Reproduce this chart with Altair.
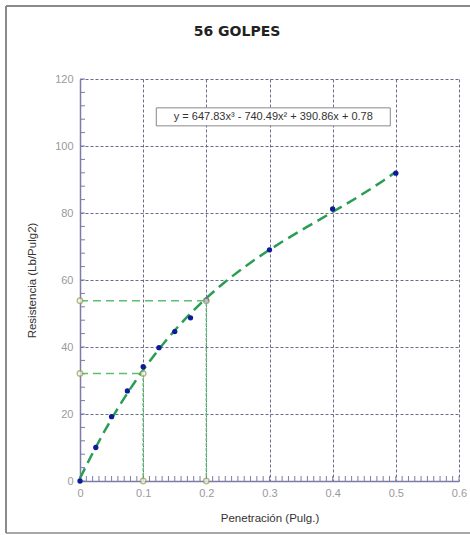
import altair as alt
import pandas as pd

# ---- data ----
penetracion = [0, 0.025, 0.05, 0.075, 0.1, 0.125, 0.15, 0.175, 0.2, 0.3, 0.4, 0.5]
resistencia = [0, 10, 19.2, 26.9, 34.1, 39.8, 44.6, 48.7, 54.0, 69.0, 81.2, 91.9]
ref_pen = [0.1, 0.2]
ref_res = [32.1, 53.8]
title_text = "56 GOLPES"
equation = "y = 647.83x³ - 740.49x² + 390.86x + 0.78"
eq_pos = [0.306, 108.7]
x_ticks = [0, 0.1, 0.2, 0.3, 0.4, 0.5, 0.6]
y_ticks = [0, 20, 40, 60, 80, 100, 120]
x_minor = [round(i * 0.01, 2) for i in range(61)]
y_minor = list(range(0, 121, 4))

pts = pd.DataFrame({"pen": penetracion, "res": resistencia})
refs = pd.DataFrame({"pen": ref_pen, "res": ref_res, "zero": [0, 0]})
circ = pd.DataFrame({
    "pen": [0, ref_pen[0], ref_pen[0], 0, ref_pen[1], ref_pen[1]],
    "res": [ref_res[0], ref_res[0], 0, ref_res[1], ref_res[1], 0],
})
eq = pd.DataFrame({"pen": [eq_pos[0]], "res": [eq_pos[1]], "label": [equation]})
xm = pd.DataFrame({"pen": x_minor})
ym = pd.DataFrame({"res": y_minor})

xs = alt.Scale(domain=[0, 0.6], nice=False, zero=False)
ys = alt.Scale(domain=[0, 120], nice=False, zero=False)

GRID = "#5b5b80"
DOM = "#7c7ca6"

x_main = alt.Axis(values=x_ticks, title="Penetración (Pulg.)", orient="bottom",
                  labelExpr="'' + datum.value", labelFlush=False,
                  grid=True, gridColor=GRID, gridDash=[3, 2], gridWidth=1, gridOpacity=0.9,
                  domainColor=DOM, domainWidth=1.5, ticks=False,
                  labelColor="#9a9a9a", labelFontSize=11, labelFont="Liberation Sans",
                  labelPadding=6, titleFont="Liberation Sans", titleFontSize=11.5,
                  titleFontWeight="normal", titleColor="#333333", titlePadding=14)
y_main = alt.Axis(values=y_ticks, title="Resistencia  (Lb/Pulg2)", orient="left",
                  labelExpr="'' + datum.value", labelFlush=False,
                  grid=True, gridColor=GRID, gridDash=[3, 2], gridWidth=1, gridOpacity=0.9,
                  domainColor=DOM, domainWidth=1.5, ticks=False,
                  labelColor="#9a9a9a", labelFontSize=11, labelFont="Liberation Sans",
                  labelPadding=7, titleFont="Liberation Sans", titleFontSize=11.5,
                  titleFontWeight="normal", titleColor="#333333", titlePadding=17)

base = alt.Chart(pts)

axes_layer = base.mark_point(opacity=0).encode(
    x=alt.X("pen:Q", scale=xs, axis=x_main),
    y=alt.Y("res:Q", scale=ys, axis=y_main),
)

x_minor_ticks = alt.Chart(xm).mark_rule(color=DOM, strokeWidth=1).encode(
    x=alt.X("pen:Q", scale=xs, axis=None), y=alt.value(397), y2=alt.value(402))
y_minor_ticks = alt.Chart(ym).mark_rule(color=DOM, strokeWidth=1).encode(
    y=alt.Y("res:Q", scale=ys, axis=None), x=alt.value(0), x2=alt.value(5))

hlines = alt.Chart(refs).mark_rule(color="#5cc070", strokeWidth=1.5, strokeDash=[8, 5]).encode(
    x=alt.X("zero:Q", scale=xs, axis=None), x2="pen:Q",
    y=alt.Y("res:Q", scale=ys, axis=None),
)
vlines = alt.Chart(refs).mark_rule(color="#5cc070", strokeWidth=1.5, strokeDash=[3, 2]).encode(
    x=alt.X("pen:Q", scale=xs, axis=None),
    y=alt.Y("zero:Q", scale=ys, axis=None), y2="res:Q",
)

curve = base.transform_regression(
    "pen", "res", method="poly", order=3, extent=[0, 0.5]
).mark_line(color="#2a9d55", strokeWidth=2.5, strokeDash=[11, 6]).encode(
    x=alt.X("pen:Q", scale=xs, axis=None),
    y=alt.Y("res:Q", scale=ys, axis=None),
)

points = base.mark_circle(color="#0c1a9c", size=28, opacity=1).encode(
    x=alt.X("pen:Q", scale=xs, axis=None),
    y=alt.Y("res:Q", scale=ys, axis=None),
)

circles = alt.Chart(circ).mark_point(shape="circle", filled=True, fill="white",
                                      stroke="#9aa35a", strokeWidth=1.5, size=30).encode(
    x=alt.X("pen:Q", scale=xs, axis=None),
    y=alt.Y("res:Q", scale=ys, axis=None),
)

box = alt.Chart(eq).mark_rect(fill="white", stroke="#888888", strokeWidth=1,
                               width=234, height=18).encode(
    x=alt.X("pen:Q", scale=xs, axis=None),
    y=alt.Y("res:Q", scale=ys, axis=None),
)
eq_text = alt.Chart(eq).mark_text(font="Liberation Sans", fontSize=11, color="#333333",
                                  align="center", baseline="middle").encode(
    x=alt.X("pen:Q", scale=xs, axis=None),
    y=alt.Y("res:Q", scale=ys, axis=None),
    text="label:N",
)

title = alt.Chart(pd.DataFrame({"t": [title_text]})).mark_text(
    font="DejaVu Sans", fontWeight="bold", fontSize=14, color="#222222",
    align="center", baseline="middle"
).encode(x=alt.value(157), y=alt.value(-47), text="t:N")

frame_left = alt.Chart(pd.DataFrame({"a": [0]})).mark_rule(color="#8a8a8a", strokeWidth=2).encode(
    x=alt.value(-74), y=alt.value(-73), y2=alt.value(454))
frame_top = alt.Chart(pd.DataFrame({"a": [0]})).mark_rule(color="#8a8a8a", strokeWidth=2).encode(
    x=alt.value(-74), x2=alt.value(392), y=alt.value(-73))
frame_bottom = alt.Chart(pd.DataFrame({"a": [0]})).mark_rule(color="#8a8a8a", strokeWidth=1.5).encode(
    x=alt.value(-74), x2=alt.value(392), y=alt.value(454))

chart = alt.layer(
    axes_layer, x_minor_ticks, y_minor_ticks, hlines, vlines, curve, points, circles,
    box, eq_text, title, frame_left, frame_top, frame_bottom
).resolve_axis(x="independent", y="independent").properties(
    width=379, height=402,
    autosize=alt.AutoSizeParams(type="none"),
    padding={"left": 80, "top": 79, "right": 11, "bottom": 54},
    background="white",
).configure_view(stroke=None)

chart.save("out.html", embed_options={"renderer": "svg", "actions": False})
